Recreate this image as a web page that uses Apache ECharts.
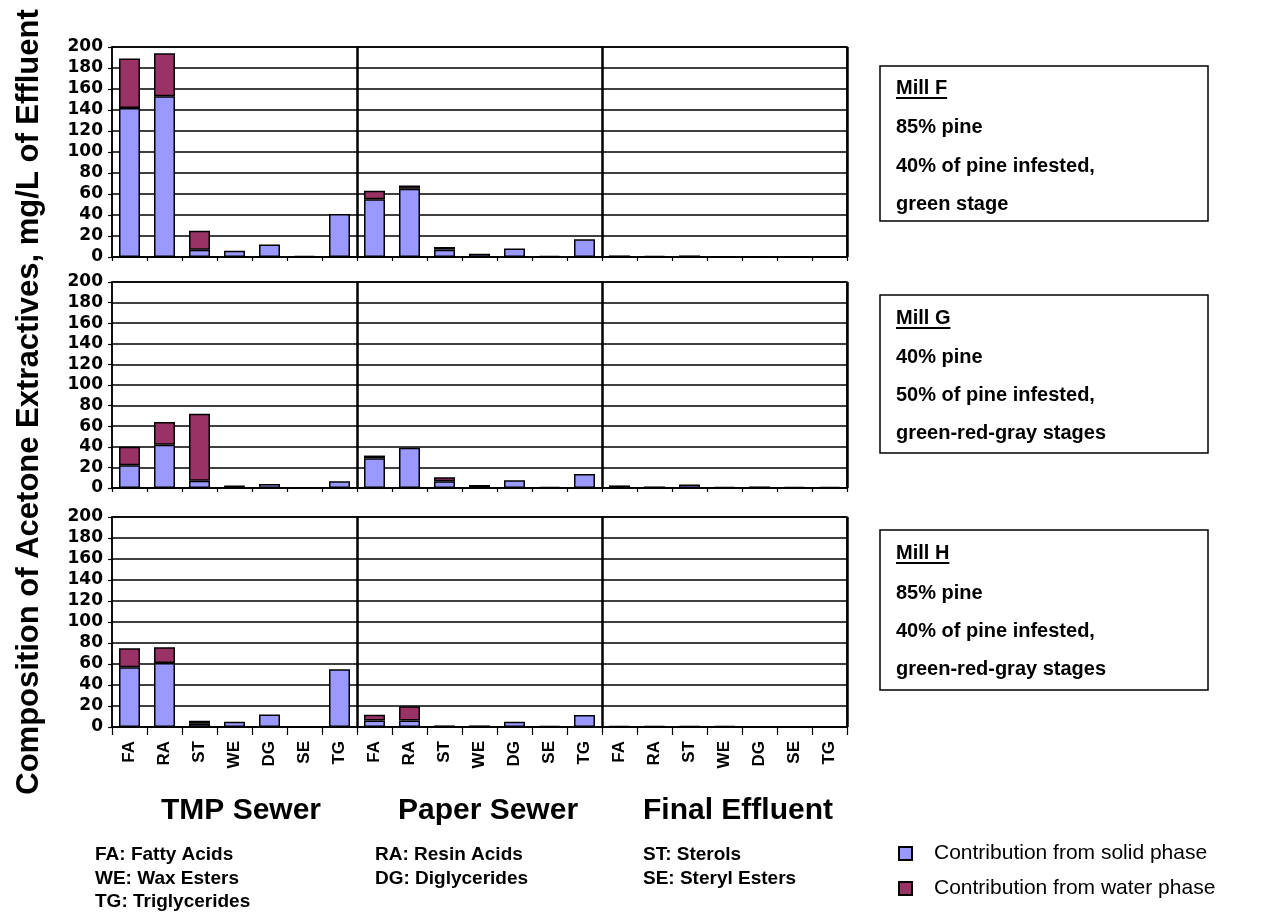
<!DOCTYPE html>
<html>
<head>
<meta charset="utf-8">
<script src="https://cdn.jsdelivr.net/npm/echarts@6/dist/echarts.min.js"></script>
<style>
  html, body { margin: 0; padding: 0; background: #fff; }
  #chart { width: 1266px; height: 915px; }
</style>
</head>
<body>
<div id="chart"></div>
<script>
// Extractive classes, repeated for each sampling location
const compounds = ['FA', 'RA', 'ST', 'WE', 'DG', 'SE', 'TG'];
const locations = ['TMP Sewer', 'Paper Sewer', 'Final Effluent'];
const yTickValues = [0, 20, 40, 60, 80, 100, 120, 140, 160, 180, 200];

const seriesNames = ['Contribution from solid phase', 'Contribution from water phase'];

// mg/L, ordered TMP Sewer (FA..TG), Paper Sewer (FA..TG), Final Effluent (FA..TG)
const millF_solid = [142, 153, 7, 6, 12, 1, 41,   55, 65, 7, 3, 8, 1, 17,      1.5, 1, 1.5, 0.5, 0.5, 0.5, 0.5];
const millF_water = [47, 41, 18, 0, 0, 0, 0,      8, 3, 2.5, 0, 0, 0, 0,       0, 0, 0, 0, 0, 0, 0];

const millG_solid = [22, 42, 7, 1.5, 4, 0.5, 6.5, 29, 39, 6.5, 3, 7.5, 1, 13.5, 2.5, 1.5, 3.5, 0.8, 1.5, 0.8, 0.8];
const millG_water = [18, 22, 65, 0.5, 0, 0, 0,    2.5, 0, 4, 0, 0, 0, 0,       0, 0, 0, 0, 0, 0, 0];

const millH_solid = [57, 61, 3, 5, 12, 0.5, 55,   6.3, 6.3, 1.5, 1.5, 5, 0.8, 11.5, 0.8, 0.8, 0.8, 0.8, 0, 0, 0];
const millH_water = [18, 15, 3, 0, 0, 0, 0,       5.4, 13.4, 0, 0, 0, 0, 0,     0, 0, 0, 0, 0, 0, 0];

const millTitles = ['Mill F', 'Mill G', 'Mill H'];
const millNotes = [
  ['85% pine', '40% of pine infested,', 'green stage'],
  ['40% pine', '50% of pine infested,', 'green-red-gray stages'],
  ['85% pine', '40% of pine infested,', 'green-red-gray stages']
];

const abbreviations = [
  ['FA: Fatty Acids', 'RA: Resin Acids', 'ST: Sterols'],
  ['WE: Wax Esters', 'DG: Diglycerides', 'SE: Steryl Esters'],
  ['TG: Triglycerides']
];

const yTitle = 'Composition of Acetone Extractives, mg/L of Effluent';

// ---------- layout ----------
const FONT = '"Liberation Sans", Arial, sans-serif';
const SOLID = '#9999FF';
const WATER = '#993366';
const plotLeft = 112, plotRight = 847;
const panelTops = [47, 282, 517];
const panelHeights = [210, 206, 210];
const boxes = [
  { top: 66, height: 155, lines: [88, 127, 166, 204] },
  { top: 295, height: 158, lines: [318, 357, 395, 433] },
  { top: 530, height: 160, lines: [553, 593, 631, 669] }
];

const millData = [
  [millF_solid, millF_water],
  [millG_solid, millG_water],
  [millH_solid, millH_water]
];

// unique category keys; labels show only the compound code
const categoryKeys = [];
locations.forEach(loc => compounds.forEach(c => categoryKeys.push(loc + '|' + c)));

const measureCtx = document.createElement('canvas').getContext('2d');
function textWidth(str, font) { measureCtx.font = font; return measureCtx.measureText(str).width; }

const grids = [], xAxes = [], yAxes = [], series = [];
for (let i = 0; i < 3; i++) {
  const last = i === 2;
  grids.push({
    left: plotLeft, width: plotRight - plotLeft, top: panelTops[i], height: panelHeights[i],
    show: true, borderColor: '#000', borderWidth: 1.5, backgroundColor: 'transparent'
  });
  xAxes.push({
    type: 'category', gridIndex: i, data: categoryKeys, boundaryGap: true,
    axisLine: { show: true, lineStyle: { color: '#000', width: 1.5 } },
    axisTick: { show: true, length: last ? 8 : 4, lineStyle: { color: '#000', width: 1.2 } },
    axisLabel: {
      show: last, rotate: 90, interval: 0, margin: 14,
      fontFamily: FONT, fontWeight: 'bold', fontSize: 17, color: '#000',
      formatter: v => v.split('|')[1]
    },
    splitLine: {
      show: true, interval: idx => idx === 7 || idx === 14,
      lineStyle: { color: '#000', width: 2.5 }
    }
  });
  yAxes.push({
    type: 'value', gridIndex: i, min: 0, max: 200, interval: 20,
    axisLine: { show: true, lineStyle: { color: '#000', width: 1.5 } },
    axisTick: { show: true, length: 4, lineStyle: { color: '#000', width: 1.2 } },
    axisLabel: {
      margin: 9, fontFamily: '"DejaVu Sans", sans-serif', fontWeight: 'bold', fontSize: 17, color: '#000',
      formatter: v => (yTickValues.indexOf(v) >= 0 ? String(v) : '')
    },
    splitLine: { show: true, lineStyle: { color: '#000', width: 1.5 } }
  });
  [SOLID, WATER].forEach((col, k) => {
    series.push({
      type: 'bar', name: seriesNames[k], xAxisIndex: i, yAxisIndex: i, stack: 'mill' + i,
      barWidth: '60%',
      data: millData[i][k].map(v => (v === 0 ? null : v)),
      itemStyle: { color: col, borderColor: '#000', borderWidth: 1.5 },
      emphasis: { disabled: true }
    });
  });
}

const graphics = [];
// vertical axis title
graphics.push({
  type: 'text', x: 29, y: 402, rotation: Math.PI / 2,
  style: { text: yTitle, font: 'bold 31px ' + FONT, fill: '#000', textAlign: 'center', textVerticalAlign: 'middle' }
});
// location titles under the bottom panel
const locCenters = [241, 488, 738];
locations.forEach((loc, j) => {
  graphics.push({
    type: 'text', x: locCenters[j], y: 811,
    style: { text: loc, font: 'bold 30px ' + FONT, fill: '#000', textAlign: 'center', textVerticalAlign: 'middle' }
  });
});
// abbreviation key
const keyCols = [95, 375, 643], keyRows = [855, 879, 902];
abbreviations.forEach((row, r) => row.forEach((t, c) => {
  graphics.push({
    type: 'text', x: keyCols[c], y: keyRows[r],
    style: { text: t, font: 'bold 19px ' + FONT, fill: '#000', textAlign: 'left', textVerticalAlign: 'middle' }
  });
}));
// mill description boxes
boxes.forEach((b, i) => {
  graphics.push({
    type: 'rect', shape: { x: 880, y: b.top, width: 328, height: b.height },
    style: { fill: '#fff', stroke: '#000', lineWidth: 1.5 }
  });
  const titleFont = 'bold 20px ' + FONT;
  graphics.push({
    type: 'text', x: 896, y: b.lines[0],
    style: { text: millTitles[i], font: titleFont, fill: '#000', textAlign: 'left', textVerticalAlign: 'middle' }
  });
  graphics.push({
    type: 'line', shape: { x1: 896, y1: b.lines[0] + 10, x2: 896 + textWidth(millTitles[i], titleFont), y2: b.lines[0] + 10 },
    style: { stroke: '#000', lineWidth: 2 }
  });
  millNotes[i].forEach((t, k) => {
    graphics.push({
      type: 'text', x: 896, y: b.lines[k + 1],
      style: { text: t, font: titleFont, fill: '#000', textAlign: 'left', textVerticalAlign: 'middle' }
    });
  });
});

const chart = echarts.init(document.getElementById('chart'), null, { renderer: 'canvas' });
chart.setOption({
  animation: false,
  backgroundColor: '#fff',
  grid: grids,
  xAxis: xAxes,
  yAxis: yAxes,
  series: series,
  legend: {
    orient: 'vertical', left: 898, top: 843, padding: 0,
    icon: 'rect',
    itemWidth: 13, itemHeight: 13, itemGap: 14,
    data: seriesNames,
    textStyle: { fontFamily: FONT, fontSize: 21, color: '#000', padding: [0, 0, 0, 17] }
  },
  graphic: { elements: graphics }
});
</script>
</body>
</html>
